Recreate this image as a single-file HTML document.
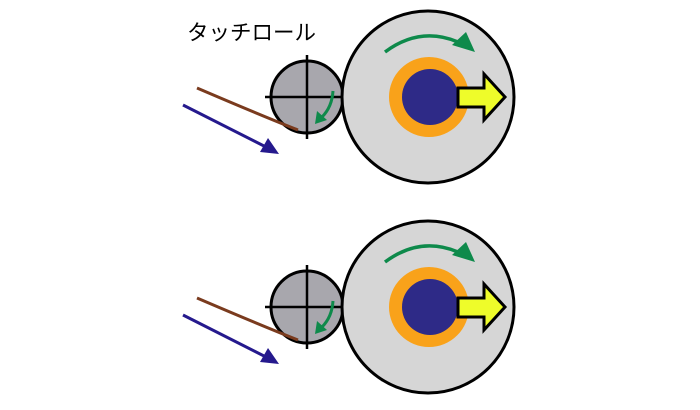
<!DOCTYPE html>
<html><head><meta charset="utf-8"><style>
html,body{margin:0;padding:0;background:#fff;width:700px;height:410px;overflow:hidden}
</style></head><body>
<svg width="700" height="410" viewBox="0 0 700 410" xmlns="http://www.w3.org/2000/svg">
<defs>
<g id="d">
  <line x1="183" y1="105" x2="266" y2="147" stroke="#25198d" stroke-width="3"/>
  <polygon points="279,154 260,152 268,138" fill="#25198d"/>
  <circle cx="307" cy="97" r="36" fill="#a8a7ad" stroke="#000" stroke-width="3"/>
  <path d="M197,88 Q260,115 298,130" fill="none" stroke="#7a3b1e" stroke-width="3"/>
  <line x1="265" y1="97" x2="350" y2="97" stroke="#000" stroke-width="2.5"/>
  <line x1="307" y1="55" x2="307" y2="139" stroke="#000" stroke-width="2.5"/>
  <path d="M333,91 Q332,107 322,117" fill="none" stroke="#0e8a4b" stroke-width="3"/>
  <polygon points="315,124 317,111 327,120" fill="#0e8a4b"/>
  <circle cx="428" cy="97" r="86" fill="#d6d6d6" stroke="#000" stroke-width="3"/>
  <path d="M385,52 Q420,26 458,42" fill="none" stroke="#0e8a4b" stroke-width="3.5"/>
  <polygon points="475,52 452,45 466,32" fill="#0e8a4b"/>
  <circle cx="429" cy="97" r="40" fill="#f9a21a"/>
  <circle cx="430" cy="97" r="28" fill="#2e2a87"/>
  <polygon points="458,88 484,88 484,74 505,97 484,120 484,107 458,107" fill="#eefc2a" stroke="#000" stroke-width="3" stroke-linejoin="miter"/>
</g>
</defs>
<text x="187" y="40" font-family="Liberation Sans, Noto Sans CJK JP, sans-serif" font-size="21.5" fill="#000">タッチロール</text>
<use href="#d"/>
<use href="#d" transform="translate(0,210)"/>
</svg>
</body></html>
